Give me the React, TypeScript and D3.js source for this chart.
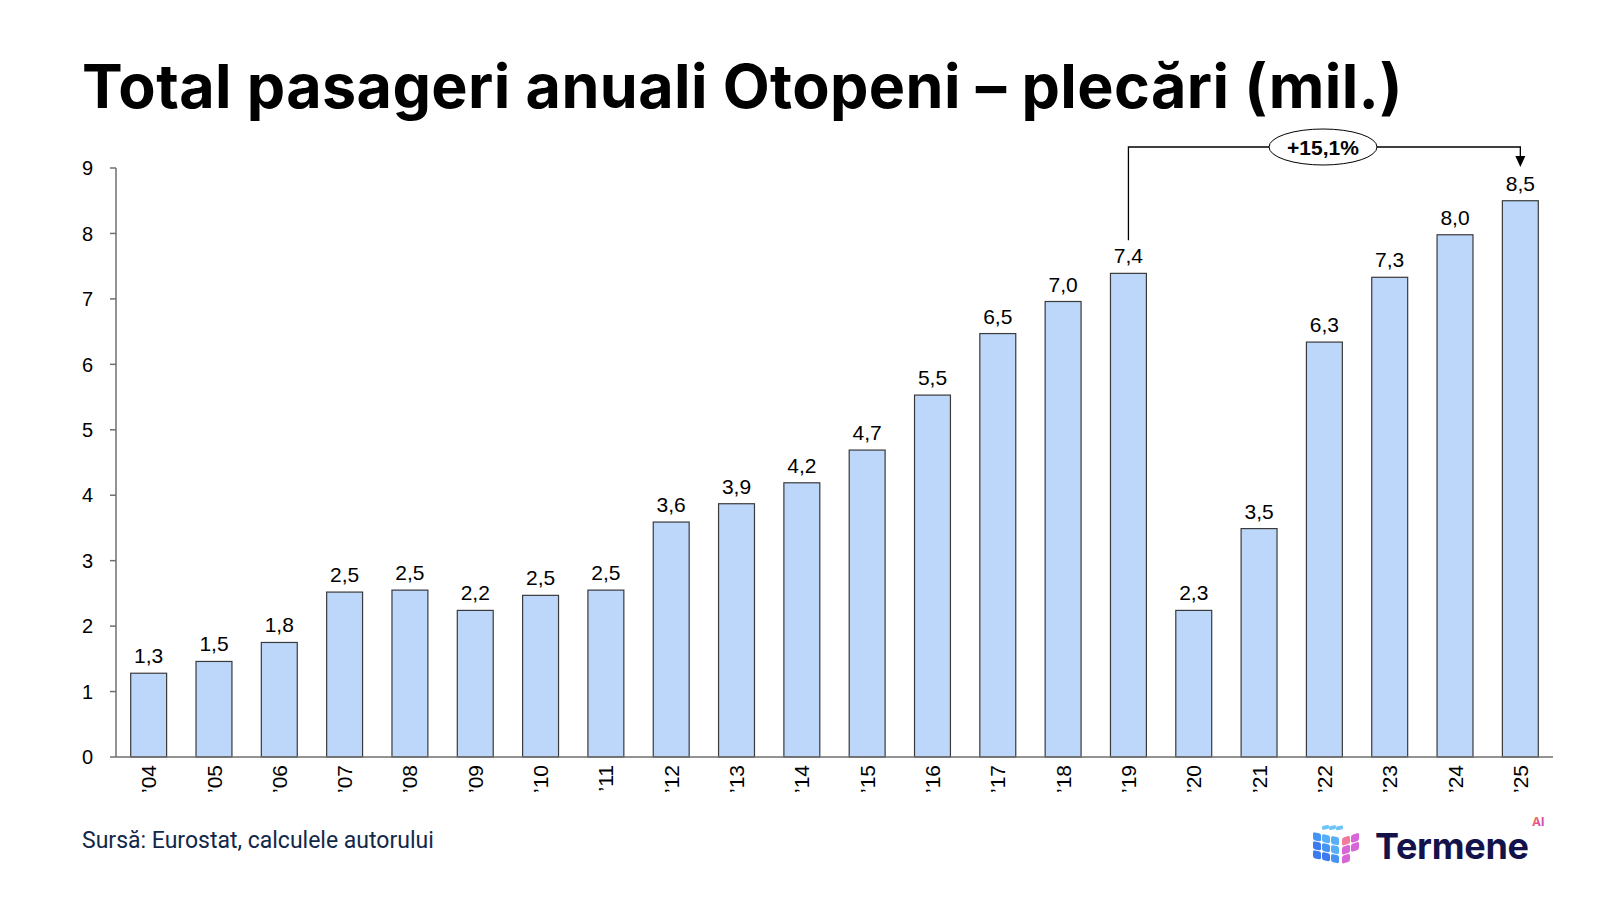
import * as d3 from 'd3';

const years = ['’04', '’05', '’06', '’07', '’08', '’09', '’10', '’11', '’12', '’13', '’14', '’15', '’16', '’17', '’18', '’19', '’20', '’21', '’22', '’23', '’24', '’25'];
const passengers = [1.28, 1.46, 1.75, 2.52, 2.55, 2.24, 2.47, 2.55, 3.59, 3.87, 4.19, 4.69, 5.53, 6.47, 6.96, 7.39, 2.24, 3.49, 6.34, 7.33, 7.98, 8.5];
const valueLabels = ['1,3', '1,5', '1,8', '2,5', '2,5', '2,2', '2,5', '2,5', '3,6', '3,9', '4,2', '4,7', '5,5', '6,5', '7,0', '7,4', '2,3', '3,5', '6,3', '7,3', '8,0', '8,5'];
const yTicks = [0, 1, 2, 3, 4, 5, 6, 7, 8, 9];
const growthFrom = '’19';
const growthTo = '’25';
const growthLabel = '+15,1%';

const W = 1600;
const H = 900;
const left = 116;
const right = 1553;
const top = 168;
const bottom = 757;

const font = '"Liberation Sans", Arial, sans-serif';

export default function App() {
  const x = d3.scaleBand<string>().domain(years).range([left, right]).paddingInner(0.45).paddingOuter(0.225);
  const y = d3.scaleLinear().domain([0, 9]).range([bottom, top]);
  const cx = (k: string) => x(k)! + x.bandwidth() / 2;

  const fromIdx = years.indexOf(growthFrom);
  const x1 = cx(growthFrom);
  const x2 = cx(growthTo);
  const lineY = 147;
  const midX = 1323;

  // logo cube: left face blue grid, right face pink/purple
  const blues = ['#3d7af0', '#4593f4', '#55b0f7'];
  const pinks = ['#ef7c9c', '#d865d8'];
  const leftFace: { x: number; y: number; c: string }[] = [];
  for (let r = 0; r < 3; r++) {
    for (let c = 0; c < 3; c++) {
      leftFace.push({ x: c * 9, y: r * 9, c: blues[2 - Math.min(2, Math.max(0, r - c + 1))] });
    }
  }
  const rightFace: { x: number; y: number; c: string }[] = [];
  for (let r = 0; r < 3; r++) {
    for (let c = 0; c < 2; c++) {
      if (r === 2 && c === 1) continue;
      rightFace.push({ x: c * 9, y: r * 9, c: pinks[r > 0 ? 1 : c] });
    }
  }

  return (
    <svg width={W} height={H} style={{ display: 'block', position: 'absolute', left: 0, top: 0, background: '#fff' }}>
      <defs>
        <linearGradient id="aiGrad" x1="0" y1="0" x2="1" y2="1">
          <stop offset="0%" stopColor="#f5a623" />
          <stop offset="50%" stopColor="#e8508a" />
          <stop offset="100%" stopColor="#9b4fe0" />
        </linearGradient>
      </defs>

      <text x={82} y={108} fontFamily="Inter, sans-serif" fontWeight={700} fontSize={61} fill="#000" letterSpacing={0.4}>
        Total pasageri anuali Otopeni – plecări (mil.)
      </text>

      {/* y axis */}
      <line x1={left} x2={left} y1={top} y2={bottom} stroke="#6f6f6f" strokeWidth={1.5} />
      {yTicks.map((t) => (
        <g key={t}>
          <line x1={left - 6} x2={left} y1={y(t)} y2={y(t)} stroke="#6f6f6f" strokeWidth={1.5} />
          <text x={93} y={y(t)} dy="0.36em" textAnchor="end" fontFamily={font} fontSize={20} fill="#000">
            {t}
          </text>
        </g>
      ))}

      {/* bars */}
      {years.map((yr, i) => (
        <g key={yr}>
          <rect
            x={x(yr)}
            y={y(passengers[i])}
            width={x.bandwidth()}
            height={bottom - y(passengers[i])}
            fill="#bdd7fb"
            stroke="#3a3a3a"
            strokeWidth={1.2}
          />
          <text x={cx(yr)} y={y(passengers[i]) - 10} textAnchor="middle" fontFamily={font} fontSize={21} fill="#000">
            {valueLabels[i]}
          </text>
          <text
            transform={`translate(${cx(yr)},${bottom + 8}) rotate(-90)`}
            dy="0.36em"
            textAnchor="end"
            fontFamily={font}
            fontSize={21}
            fill="#000"
          >
            {yr}
          </text>
        </g>
      ))}

      {/* x axis */}
      <line x1={left} x2={right} y1={bottom} y2={bottom} stroke="#6f6f6f" strokeWidth={1.5} />

      {/* growth annotation */}
      <path
        d={`M${x1},${y(passengers[fromIdx]) - 33} V${lineY} H${x2} V${lineY + 10}`}
        fill="none"
        stroke="#000"
        strokeWidth={1.3}
      />
      <path d={`M${x2 - 5},${lineY + 9} L${x2 + 5},${lineY + 9} L${x2},${lineY + 20} Z`} fill="#000" />
      <ellipse cx={midX} cy={lineY} rx={54} ry={18} fill="#fff" stroke="#000" strokeWidth={1} />
      <text x={midX} y={lineY} dy="0.36em" textAnchor="middle" fontFamily={font} fontWeight={700} fontSize={21} fill="#000">
        {growthLabel}
      </text>

      {/* footer */}
      <text x={82} y={848} fontFamily="Roboto, sans-serif" fontSize={23} fill="#11284a">
        Sursă: Eurostat, calculele autorului
      </text>

      {/* logo */}
      <g transform="translate(1313,832) skewY(12)">
        {leftFace.map((s, i) => (
          <rect key={i} x={s.x} y={s.y} width={8} height={8} rx={2} fill={s.c} />
        ))}
      </g>
      <g transform="translate(1342,838) skewY(-18)">
        {rightFace.map((s, i) => (
          <rect key={i} x={s.x} y={s.y} width={8} height={8} rx={2} fill={s.c} />
        ))}
      </g>
      <g transform="translate(1322,826) skewY(-10)">
        {[0, 1, 2].map((c) => (
          <rect key={c} x={c * 7} y={c * 1.5} width={7} height={4} rx={1.5} fill="#6cc4f8" />
        ))}
      </g>
      <text x={1375} y={859} fontFamily="Inter, sans-serif" fontWeight={700} fontSize={36} fill="#14124a" letterSpacing={-0.3}>
        Termene
      </text>
      <text x={1532} y={826} fontFamily="Inter, sans-serif" fontWeight={700} fontSize={12} fill="url(#aiGrad)">
        AI
      </text>
    </svg>
  );
}
